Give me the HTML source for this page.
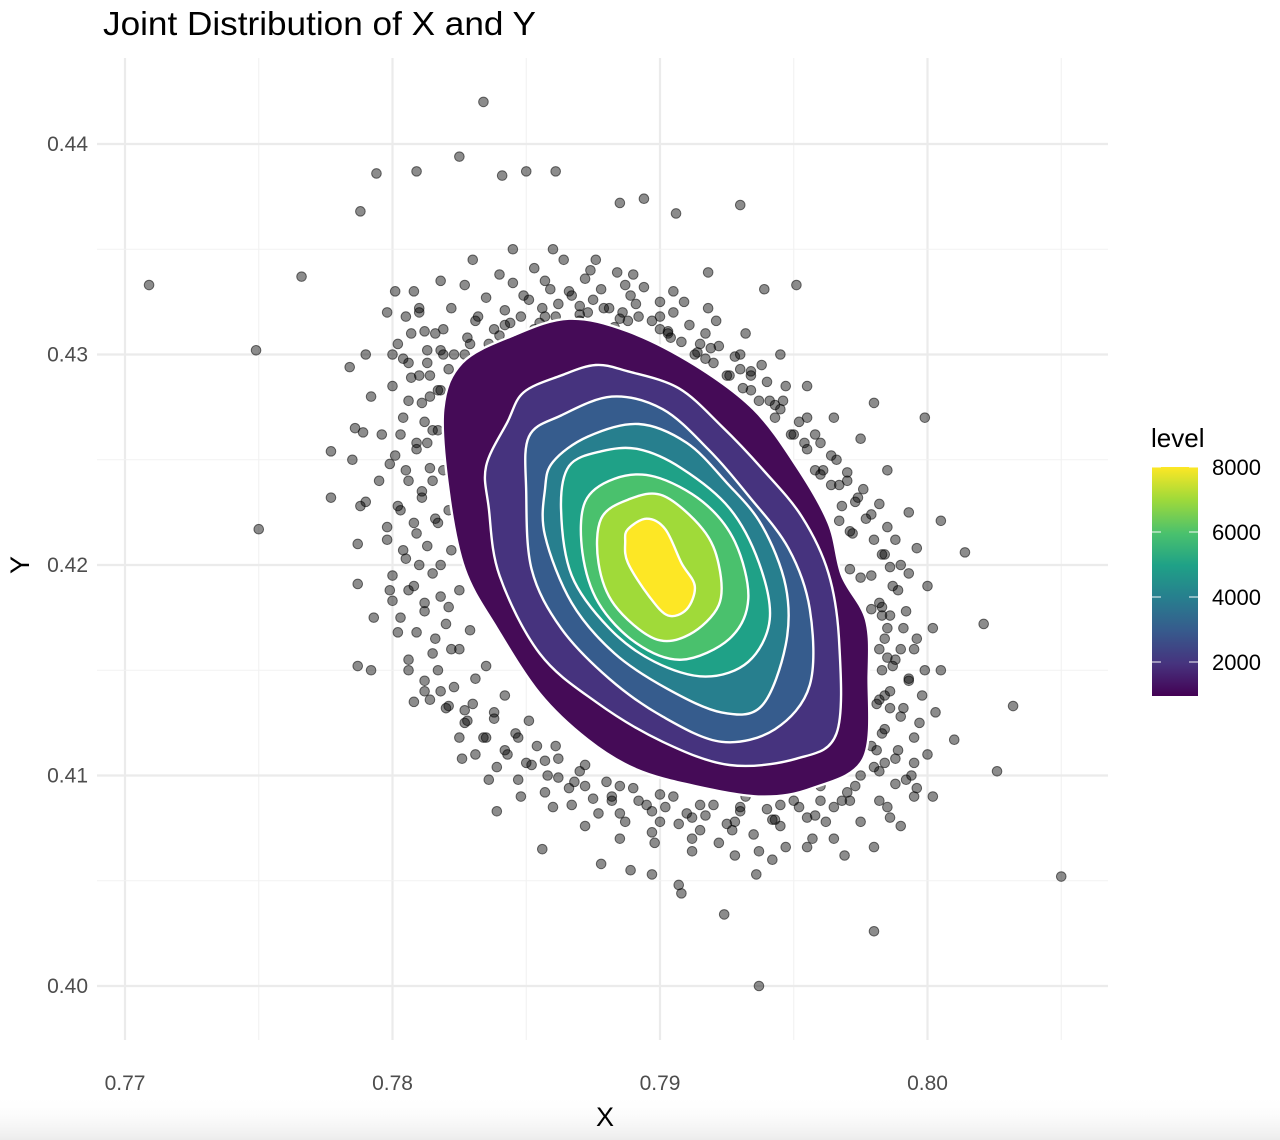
<!DOCTYPE html>
<html><head><meta charset="utf-8">
<style>
html,body{margin:0;padding:0;background:#fff;}
svg{display:block;font-family:"Liberation Sans",Arial,sans-serif;}
</style></head>
<body>
<svg id="chart" width="1280" height="1140" viewBox="0 0 1280 1140">
<defs>
<linearGradient id="vir" x1="0" y1="1" x2="0" y2="0">
<stop offset="0" stop-color="#440154"/><stop offset="0.14" stop-color="#46337e"/>
<stop offset="0.29" stop-color="#365c8d"/><stop offset="0.43" stop-color="#277f8e"/>
<stop offset="0.57" stop-color="#1fa187"/><stop offset="0.71" stop-color="#4ac16d"/>
<stop offset="0.86" stop-color="#a0da39"/><stop offset="1" stop-color="#fde725"/>
</linearGradient>
<linearGradient id="shade" x1="0" y1="0" x2="0" y2="1">
<stop offset="0" stop-color="#fff" stop-opacity="0"/><stop offset="1" stop-color="#ececec"/>
</linearGradient>
</defs>
<rect x="0" y="1095" width="1280" height="45" fill="url(#shade)"/>
<text x="103" y="35" font-size="33" fill="#000" textLength="433" lengthAdjust="spacingAndGlyphs">Joint Distribution of X and Y</text>
<g id="grid"></g>
<g id="points"></g>
<g id="contours"></g>
<g id="axes"></g>
<text x="605" y="1126" font-size="27" text-anchor="middle" fill="#000">X</text>
<text transform="translate(29,565) rotate(-90)" font-size="27" text-anchor="middle" fill="#000">Y</text>
<g>
<text x="1151" y="447" font-size="26" fill="#000">level</text>
<rect x="1152" y="467" width="46" height="229" fill="url(#vir)"/>
<g id="legend-ticks"></g>
</g>
</svg>
<script>
const xTicks=[0.77,0.78,0.79,0.80];
const xTickLabels=["0.77","0.78","0.79","0.80"];
const yTicks=[0.40,0.41,0.42,0.43,0.44];
const yTickLabels=["0.40","0.41","0.42","0.43","0.44"];
const legendTicks=[2000,4000,6000,8000];
const contourLevels=[1000,2000,3000,4000,5000,6000,7000,8000];
const contourColors=["#450b57","#46337e","#365c8d","#277f8e","#1fa187","#4ac16d","#a0da39","#fde725"];
const contour1=[[.7819,.4274],[.7826,.4296],[.7845,.4309],[.7866,.4317],[.7888,.4311],[.7913,.4295],[.7935,.4274],[.7951,.4247],[.7963,.4220],[.7968,.4195],[.7977,.4174],[.7978,.4147],[.7976,.4108],[.7957,.4094],[.7938,.4090],[.7913,.4095],[.7891,.4103],[.7873,.4117],[.7855,.4139],[.7839,.4170],[.7827,.4198],[.7821,.4235]];
const contour2=[[.7849,.4282],[.7863,.4290],[.7876,.4295],[.7888,.4292],[.7907,.4284],[.7923,.4266],[.7938,.4246],[.7953,.4223],[.7963,.4196],[.7967,.4163],[.7966,.4120],[.7951,.4108],[.7926,.4105],[.7901,.4116],[.7876,.4135],[.7855,.4158],[.7840,.4195],[.7836,.4227],[.7835,.4247],[.7843,.4268]];
const contour3=[[.7851,.4261],[.7863,.4271],[.7882,.4280],[.7901,.4274],[.7918,.4255],[.7933,.4233],[.7948,.4208],[.7956,.4179],[.7956,.4143],[.7943,.4122],[.7923,.4116],[.7901,.4128],[.7881,.4146],[.7863,.4170],[.7852,.4198],[.7850,.4235]];
const contour4=[[.7860,.4249],[.7873,.4261],[.7892,.4267],[.7910,.4258],[.7925,.4239],[.7938,.4219],[.7947,.4190],[.7947,.4162],[.7938,.4133],[.7923,.4130],[.7903,.4141],[.7883,.4158],[.7867,.4182],[.7857,.4214],[.7857,.4236]];
const contour5=[[.7866,.4247],[.7878,.4254],[.7892,.4255],[.7908,.4246],[.7926,.4227],[.7937,.4201],[.7941,.4174],[.7933,.4154],[.7917,.4147],[.7898,.4154],[.7881,.4170],[.7867,.4195],[.7863,.4227]];
const contour6=[[.7872,.4230],[.7883,.4241],[.7898,.4242],[.7916,.4230],[.7928,.4211],[.7933,.4184],[.7926,.4165],[.7908,.4155],[.7891,.4163],[.7877,.4182],[.7871,.4206]];
const contour7=[[.7878,.4222],[.7888,.4231],[.7901,.4233],[.7916,.4217],[.7922,.4200],[.7922,.4181],[.7911,.4167],[.7898,.4165],[.7883,.4181],[.7877,.4201]];
const contour8=[[.7888,.4217],[.7895,.4222],[.7902,.4217],[.7908,.4201],[.7913,.4190],[.7910,.4179],[.7903,.4176],[.7896,.4185],[.7888,.4201],[.7887,.4211]];
const pointsX=[.7709,.7749,.7750,.7766,.7777,.7777,.7788,.7794,.7809,.7825,.7834,.7841,.7850,.7861,.7885,.7894,.7906,.7930,.7951,.7939,.7918,.7999,.7980,.8005,.8014,.8021,.8032,.8026,.8050,.8010,.8002,.7996,.7980,.7980,.7969,.7936,.7924,.7907,.7897,.7889,.7878,.7856,.7839,.7827,.7808,.7814,.7787,.7792,.7787,.7793,.7787,.7788,.7800,.7789,.7784,.7801,.7908,.7937,
.7805,.7812,.7818,.7822,.7828,.7831,.7835,.7838,.7842,.7845,.7848,.7851,.7853,.7856,.7859,.7862,.7864,.7867,.7870,.7872,.7875,.7878,.7881,.7884,.7886,.7889,.7892,.7894,.7897,.7900,.7903,.7905,.7908,.7911,.7914,.7917,.7920,.7922,.7925,.7928,.7931,.7934,.7937,.7940,.7943,.7946,.7949,.7952,.7955,.7958,.7961,.7964,.7967,.7970,.7973,.7976,.7979,.7982,.7985,.7988,.7984,.7990,.7993,.7987,
.7982,.7986,.7991,.7984,.7995,.7988,.7983,.7993,.7986,.7998,.7981,.7990,.7984,.7995,.7979,.7988,.7982,.7992,
.7975,.7970,.7965,.7960,.7955,.7950,.7945,.7940,.7935,.7930,.7925,.7920,.7915,.7910,.7905,.7900,.7895,.7890,.7885,.7880,.7875,.7870,.7866,.7862,.7858,.7854,.7850,.7846,.7842,.7838,.7834,.7830,.7827,.7823,.7820,.7817,
.7822,.7816,.7820,.7812,.7818,.7808,.7815,.7805,.7813,.7809,.7816,.7803,.7811,.7806,.7814,.7801,.7809,.7815,.7804,.7811,.7817,.7807,.7813,.7800,
.7795,.7798,.7790,.7796,.7792,.7799,.7802,.7806,.7812,.7826,.7836,.7848,.7860,.7872,.7885,.7898,.7912,.7928,.7942,.7955,.7965,.7975,.7985,.7995,.8000,.8003,.8005,.8002,.8000,.7996,.7993,.7985,.7975,.7965,.7955,.7945,.7932,.7918,.7905,.7890,.7876,.7860,.7845,.7830,.7818,.7808,.7798,.7790,.7786,.7785,
.7802,.7806,.7810,.7814,.7819,.7823,.7827,.7832,.7836,.7840,.7844,.7849,.7853,.7857,.7861,.7866,.7870,.7874,.7879,.7883,.7887,.7891,.7896,.7900,.7904,.7909,.7913,.7917,.7921,.7926,.7930,.7934,.7938,.7943,.7947,
.7955,.7960,.7958,.7966,.7970,.7968,.7974,.7977,.7972,.7980,.7983,.7979,.7986,.7989,.7983,.7992,.7985,.7990,.7996,.7987,.7993,.7999,.7984,.7991,.7997,.7983,.7989,.7995,.7980,.7988,.7994,.7982,.7986,.7990,
.7968,.7962,.7957,.7952,.7947,.7942,.7937,.7932,.7927,.7922,.7917,.7912,.7907,.7902,.7897,.7892,.7887,.7882,.7877,.7872,.7867,.7862,.7857,.7852,.7847,.7843,.7839,.7835,.7831,.7828,.7825,.7821,
.7818,.7812,.7806,.7815,.7809,.7803,.7812,.7806,.7800,.7810,.7804,.7798,.7808,.7802,.7811,.7805,.7799,.7809,.7803,.7812,.7806,.7800,.7810,.7804,.7813,.7807,.7816,.7810,
.7818,.7817,.7819,.7821,.7822,.7825,.7829,.7835,.7842,.7851,.7861,.7872,.7885,.7900,.7915,.7930,.7945,.7960,.7973,.7981,.7982,.7982,.7979,.7971,.7967,.7960,.7950,.7941,.7930,.7915,.7900,.7885,.7870,.7855,.7840,.7827,.7821,
.7814,.7813,.7815,.7817,.7818,.7821,.7825,.7831,.7838,.7847,.7857,.7868,.7882,.7897,.7912,.7928,.7943,.7958,.7971,.7984,.7986,.7985,.7983,.7975,.7971,.7964,.7954,.7945,.7934,.7919,.7903,.7888,.7873,.7857,.7842,.7829,.7819];
const pointsY=[.4333,.4302,.4217,.4337,.4254,.4232,.4368,.4386,.4387,.4394,.4420,.4385,.4387,.4387,.4372,.4374,.4367,.4371,.4333,.4331,.4339,.4270,.4277,.4221,.4206,.4172,.4133,.4102,.4052,.4117,.4090,.4094,.4066,.4026,.4062,.4053,.4034,.4048,.4053,.4055,.4058,.4065,.4083,.4131,.4135,.4136,.4152,.4150,.4191,.4175,.4210,.4228,.4183,.4263,.4294,.4330,.4044,.4000,
.4318,.4311,.4302,.4322,.4308,.4316,.4327,.4312,.4321,.4334,.4318,.4326,.4341,.4322,.4331,.4324,.4345,.4328,.4323,.4336,.4326,.4331,.4322,.4339,.4320,.4328,.4318,.4332,.4316,.4325,.4311,.4320,.4306,.4314,.4301,.4310,.4296,.4304,.4290,.4299,.4284,.4292,.4278,.4287,.4270,.4278,.4262,.4268,.4255,.4262,.4245,.4252,.4238,.4244,.4230,.4236,.4224,.4229,.4218,.4212,.4205,.4200,.4196,.4190,
.4182,.4176,.4170,.4165,.4160,.4155,.4150,.4146,.4140,.4138,.4134,.4128,.4122,.4118,.4114,.4108,.4102,.4098,
.4100,.4092,.4085,.4095,.4080,.4088,.4076,.4084,.4072,.4083,.4077,.4086,.4074,.4082,.4090,.4078,.4086,.4094,.4082,.4097,.4089,.4102,.4094,.4108,.4100,.4114,.4106,.4120,.4112,.4127,.4118,.4134,.4125,.4142,.4132,.4150,
.4160,.4165,.4172,.4178,.4185,.4190,.4196,.4203,.4209,.4215,.4222,.4226,.4232,.4240,.4246,.4252,.4258,.4264,.4270,.4277,.4283,.4289,.4296,.4300,
.4240,.4212,.4230,.4262,.4280,.4188,.4168,.4150,.4140,.4108,.4098,.4090,.4085,.4076,.4070,.4068,.4064,.4062,.4060,.4066,.4070,.4078,.4085,.4090,.4110,.4130,.4150,.4170,.4190,.4208,.4225,.4245,.4260,.4270,.4285,.4300,.4310,.4322,.4330,.4338,.4345,.4350,.4350,.4345,.4335,.4330,.4320,.4300,.4265,.4250,
.4305,.4296,.4322,.4290,.4312,.4300,.4333,.4318,.4305,.4338,.4315,.4328,.4312,.4335,.4318,.4330,.4316,.4340,.4322,.4313,.4333,.4324,.4302,.4318,.4308,.4325,.4300,.4298,.4316,.4290,.4300,.4283,.4295,.4276,.4285,
.4270,.4258,.4245,.4250,.4240,.4228,.4232,.4222,.4215,.4212,.4205,.4195,.4199,.4188,.4180,.4178,.4170,.4160,.4165,.4152,.4145,.4150,.4138,.4132,.4125,.4120,.4112,.4106,.4104,.4096,.4100,.4088,.4080,.4076,
.4088,.4078,.4070,.4085,.4066,.4079,.4064,.4090,.4074,.4068,.4081,.4070,.4077,.4085,.4073,.4088,.4078,.4090,.4082,.4095,.4086,.4099,.4092,.4105,.4098,.4110,.4104,.4118,.4110,.4126,.4118,.4133,
.4140,.4145,.4155,.4158,.4168,.4175,.4182,.4188,.4195,.4200,.4207,.4218,.4220,.4228,.4235,.4245,.4248,.4255,.4262,.4268,.4278,.4285,.4290,.4298,.4302,.4310,.4310,.4320,
.4283,.4264,.4245,.4226,.4207,.4188,.4169,.4152,.4138,.4126,.4114,.4105,.4095,.4091,.4086,.4085,.4086,.4088,.4095,.4112,.4136,.4160,.4179,.4198,.4221,.4243,.4262,.4278,.4293,.4305,.4312,.4317,.4319,.4315,.4309,.4300,.4293,
.4280,.4258,.4240,.4220,.4200,.4180,.4160,.4146,.4130,.4118,.4107,.4097,.4088,.4083,.4080,.4078,.4079,.4081,.4088,.4106,.4132,.4156,.4176,.4194,.4216,.4238,.4258,.4274,.4290,.4303,.4310,.4316,.4320,.4318,.4314,.4305,.4300];

const NS="http://www.w3.org/2000/svg";
const X0=0.79,PX0=660,SX=26750, Y0=0.42,PY0=565,SY=21050;
function xs(v){return PX0+(v-X0)*SX;}
function ys(v){return PY0-(v-Y0)*SY;}
function ly(v){return 694.5-(v-1000)*(65/2000);}
const PL=97,PR=1108,PT=58,PB=1040;
function mk(tag,attrs,parent){const e=document.createElementNS(NS,tag);for(const k in attrs)e.setAttribute(k,attrs[k]);parent.appendChild(e);return e;}

const grid=document.getElementById('grid');
for(let i=0;i<xTicks.length;i++){
  const v=xTicks[i];
  const l=mk('line',{x1:xs(v),x2:xs(v),y1:PT,y2:PB,stroke:'#ebebeb','stroke-width':2.2},grid);
  
  
  const m=mk('line',{x1:xs(v+0.005),x2:xs(v+0.005),y1:PT,y2:PB,stroke:'#f2f2f2','stroke-width':1.1},grid);
  
  
}
for(let i=0;i<yTicks.length;i++){
  const v=yTicks[i];
  const l=mk('line',{x1:PL,x2:PR,y1:ys(v),y2:ys(v),stroke:'#ebebeb','stroke-width':2.2},grid);
  
  
  if(i<yTicks.length-1){
    const m=mk('line',{x1:PL,x2:PR,y1:ys(v+0.005),y2:ys(v+0.005),stroke:'#f2f2f2','stroke-width':1.1},grid);
    
    
  }
}
const axes=document.getElementById('axes');
for(let i=0;i<xTicks.length;i++){
  const t=mk('text',{x:xs(xTicks[i]),y:1090,'font-size':21,'text-anchor':'middle',fill:'#4d4d4d'},axes);
  t.textContent=xTickLabels[i];
  
  
}
for(let i=0;i<yTicks.length;i++){
  const t=mk('text',{x:88,y:ys(yTicks[i])+7,'font-size':21,'text-anchor':'end',fill:'#4d4d4d'},axes);
  t.textContent=yTickLabels[i];
  
  
}
const pg=document.getElementById('points');
for(let i=0;i<pointsX.length;i++){
  const c=mk('circle',{cx:xs(pointsX[i]),cy:ys(pointsY[i]),r:4.8,fill:'rgba(0,0,0,0.45)',stroke:'rgba(0,0,0,0.55)','stroke-width':1},pg);
  
  
}
function smoothPath(pts){
  const p=pts.map(d=>[xs(d[0]),ys(d[1])]);const n=p.length;
  let s='M'+p[0][0].toFixed(1)+','+p[0][1].toFixed(1);
  for(let i=0;i<n;i++){
    const p0=p[(i-1+n)%n],p1=p[i],p2=p[(i+1)%n],p3=p[(i+2)%n];
    const c1=[p1[0]+(p2[0]-p0[0])/6,p1[1]+(p2[1]-p0[1])/6];
    const c2=[p2[0]-(p3[0]-p1[0])/6,p2[1]-(p3[1]-p1[1])/6];
    s+='C'+c1[0].toFixed(1)+','+c1[1].toFixed(1)+' '+c2[0].toFixed(1)+','+c2[1].toFixed(1)+' '+p2[0].toFixed(1)+','+p2[1].toFixed(1);
  }
  return s+'Z';
}
const contours=[contour1,contour2,contour3,contour4,contour5,contour6,contour7,contour8];
const cg=document.getElementById('contours');
for(let i=0;i<contours.length;i++){
  const p=mk('path',{d:smoothPath(contours[i]),fill:contourColors[i],stroke:'#fff','stroke-width':2.4},cg);
  
  
}
const lt=document.getElementById('legend-ticks');
for(let i=0;i<legendTicks.length;i++){
  const y=ly(legendTicks[i]);
  mk('line',{x1:1152,x2:1161,y1:y,y2:y,stroke:'#fff','stroke-width':1.2,opacity:0.8},lt);
  mk('line',{x1:1189,x2:1198,y1:y,y2:y,stroke:'#fff','stroke-width':1.2,opacity:0.8},lt);
  const t=mk('text',{x:1212,y:y+8,'font-size':22,fill:'#000'},lt);
  t.textContent=legendTicks[i];
  
  
}
</script>
</body></html>
